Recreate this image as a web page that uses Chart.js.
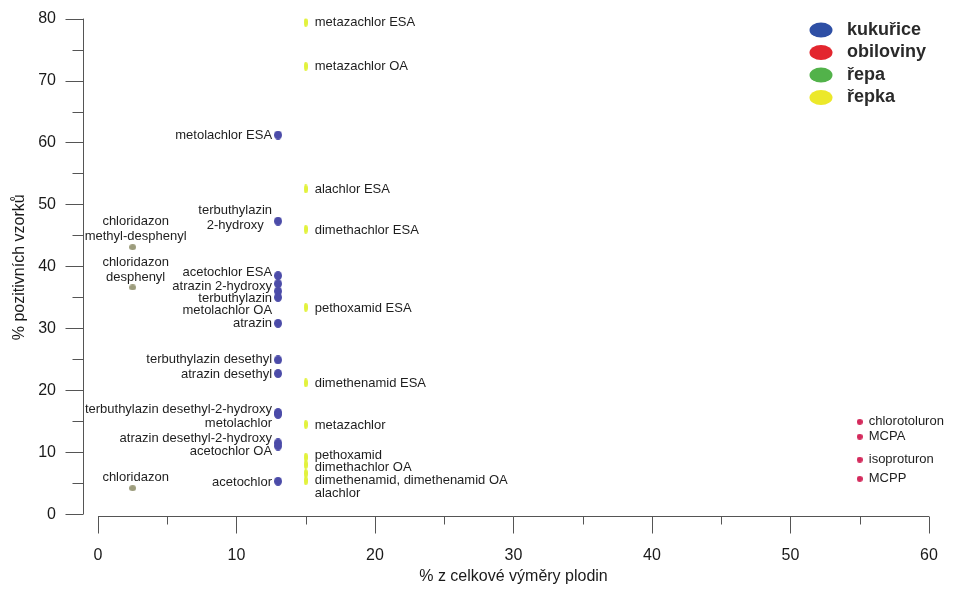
<!DOCTYPE html>
<html>
<head>
<meta charset="utf-8">
<script src="https://cdn.jsdelivr.net/npm/chart.js@4.4.1/dist/chart.umd.min.js"></script>
<style>
    html, body { margin: 0; padding: 0; background: #fff; }
    #wrap { width: 957px; height: 589px; }
</style>
</head>
<body>
<div id="wrap"><canvas id="scatterChart" width="957" height="589"></canvas></div>
<script>
// kukuřice (modrá)
const cornNames = ['metolachlor ESA', 'terbuthylazin\n2-hydroxy', 'acetochlor ESA', 'atrazin 2-hydroxy',
    'terbuthylazin', 'metolachlor OA', 'atrazin', 'terbuthylazin desethyl', 'atrazin desethyl',
    'terbuthylazin desethyl-2-hydroxy', 'metolachlor', 'atrazin desethyl-2-hydroxy', 'acetochlor OA', 'acetochlor'];
const cornX = [13, 13, 13, 13, 13, 13, 13, 13, 13, 13, 13, 13, 13, 13];
const cornY = [61.2, 47.3, 38.5, 37.2, 36.0, 35.0, 30.8, 24.9, 22.7, 16.4, 16.1, 11.5, 11.0, 5.3];
const cornLabelY = [61.2, 47.9, 39.0, 36.7, 34.8, 32.9, 30.8, 24.9, 22.5, 16.9, 14.7, 12.3, 10.1, 5.1];

// obiloviny (červená)
const cerealNames = ['chlorotoluron', 'MCPA', 'isoproturon', 'MCPP'];
const cerealX = [55, 55, 55, 55];
const cerealY = [14.9, 12.5, 8.8, 5.7];
const cerealLabelY = [14.9, 12.5, 8.8, 5.7];

// řepa (zelená)
const beetNames = ['chloridazon\nmethyl-desphenyl', 'chloridazon\ndesphenyl', 'chloridazon'];
const beetX = [2.5, 2.5, 2.5];
const beetY = [43.1, 36.6, 4.2];
const beetLabelY = [46.0, 39.5, 5.9];

// řepka (žlutá)
const rapeNames = ['metazachlor ESA', 'metazachlor OA', 'alachlor ESA', 'dimethachlor ESA', 'pethoxamid ESA',
    'dimethenamid ESA', 'metazachlor', 'pethoxamid', 'dimethachlor OA', 'dimethenamid, dimethenamid OA', 'alachlor'];
const rapeX = [15, 15, 15, 15, 15, 15, 15, 15, 15, 15, 15];
const rapeY = [79.4, 72.3, 52.5, 46.0, 33.4, 21.2, 14.5, 9.2, 8.0, 6.6, 5.4];
const rapeLabelY = [79.4, 72.2, 52.5, 45.8, 33.2, 21.1, 14.4, 9.4, 7.5, 5.4, 3.4];

const legendNames = ['kukuřice', 'obiloviny', 'řepa', 'řepka'];
const xTicks = [0, 5, 10, 15, 20, 25, 30, 35, 40, 45, 50, 55, 60];
const yTicks = [0, 5, 10, 15, 20, 25, 30, 35, 40, 45, 50, 55, 60, 65, 70, 75, 80];
const xTitle = '% z celkové výměry plodin';

const FONT = '"Liberation Sans", Arial, sans-serif';

// malé elipsy jako značky bodů
function makeDot(w, h, color) {
    const c = document.createElement('canvas');
    c.width = w;
    c.height = h;
    const g = c.getContext('2d');
    g.fillStyle = color;
    g.beginPath();
    g.ellipse(w / 2, h / 2, w / 2, h / 2, 0, 0, Math.PI * 2);
    g.fill();
    return c;
}

function toPoints(xs, ys) {
    return xs.map((x, i) => ({ x: x, y: ys[i] }));
}

// osy ve stylu R (oddělené od sebe, hlavní a vedlejší značky)
const axisLines = {
    id: 'axisLines',
    beforeDatasetsDraw(chart) {
        const { ctx, scales: { x, y }, chartArea } = chart;
        ctx.save();
        ctx.strokeStyle = '#555';
        ctx.lineWidth = 1;
        ctx.beginPath();
        const ax = Math.round(chartArea.left) + 0.5;
        ctx.moveTo(ax, y.getPixelForValue(80));
        ctx.lineTo(ax, y.getPixelForValue(0));
        yTicks.forEach(v => {
            const py = Math.round(y.getPixelForValue(v)) + 0.5;
            ctx.moveTo(ax, py);
            ctx.lineTo(ax - (v % 10 === 0 ? 18 : 11), py);
        });
        const ay = Math.round(chartArea.bottom) + 0.5;
        ctx.moveTo(x.getPixelForValue(0), ay);
        ctx.lineTo(x.getPixelForValue(60), ay);
        xTicks.forEach(v => {
            const px = Math.round(x.getPixelForValue(v)) + 0.5;
            ctx.moveTo(px, ay);
            ctx.lineTo(px, ay + (v % 10 === 0 ? 17 : 8));
        });
        ctx.stroke();

        // název osy x, vystředěný na rozsah 0–60
        ctx.font = '16px ' + FONT;
        ctx.fillStyle = '#1a1a1a';
        ctx.textAlign = 'center';
        ctx.textBaseline = 'middle';
        ctx.fillText(xTitle, x.getPixelForValue(30), 577);
        ctx.restore();
    }
};

// popisky látek u bodů
const pointLabels = {
    id: 'pointLabels',
    afterDatasetsDraw(chart) {
        const { ctx, scales: { y } } = chart;
        ctx.save();
        ctx.font = '13px ' + FONT;
        ctx.fillStyle = '#1e1e1e';
        ctx.textBaseline = 'middle';
        ctx.textAlign = 'left';
        chart.data.datasets.forEach((ds, di) => {
            const meta = chart.getDatasetMeta(di);
            meta.data.forEach((pt, i) => {
                const lines = ds.names[i].split('\n');
                const cy = y.getPixelForValue(ds.labelY[i]);
                const widths = lines.map(l => ctx.measureText(l).width);
                const maxW = Math.max(...widths);
                lines.forEach((line, k) => {
                    const ly = cy + (k - (lines.length - 1) / 2) * 15;
                    let lx;
                    if (ds.side === 'left') {
                        lx = pt.x - 6 - maxW / 2 - widths[k] / 2;
                    } else if (ds.side === 'above') {
                        lx = pt.x + 3 - widths[k] / 2;
                    } else {
                        lx = pt.x + 9;
                    }
                    ctx.fillText(line, lx, ly);
                });
            });
        });
        ctx.restore();
    }
};

// legenda vpravo nahoře
const legendColors = ['#2e4fa5', '#e3262e', '#52b24a', '#ece82a'];
const cropLegend = {
    id: 'cropLegend',
    afterDraw(chart) {
        const ctx = chart.ctx;
        ctx.save();
        ctx.font = 'bold 18px ' + FONT;
        ctx.textBaseline = 'middle';
        ctx.textAlign = 'left';
        legendNames.forEach((name, i) => {
            const cy = 30 + i * 22.5;
            ctx.fillStyle = legendColors[i];
            ctx.beginPath();
            ctx.ellipse(821, cy, 11.5, 7.5, 0, 0, Math.PI * 2);
            ctx.fill();
            ctx.fillStyle = '#2a2a2a';
            ctx.fillText(name, 847, cy);
        });
        ctx.restore();
    }
};

const ctx = document.getElementById('scatterChart').getContext('2d');
new Chart(ctx, {
    type: 'scatter',
    data: {
        datasets: [
            {
                label: 'kukuřice',
                data: toPoints(cornX, cornY),
                names: cornNames, labelY: cornLabelY, side: 'left',
                pointStyle: makeDot(8, 9, '#4b4ba8'),
                pointRadius: 5
            },
            {
                label: 'obiloviny',
                data: toPoints(cerealX, cerealY),
                names: cerealNames, labelY: cerealLabelY, side: 'right',
                pointStyle: makeDot(6, 6, '#d42a5c'),
                pointRadius: 4
            },
            {
                label: 'řepa',
                data: toPoints(beetX, beetY),
                names: beetNames, labelY: beetLabelY, side: 'above',
                pointStyle: makeDot(7, 6, '#9c9c7c'),
                pointRadius: 4
            },
            {
                label: 'řepka',
                data: toPoints(rapeX, rapeY),
                names: rapeNames, labelY: rapeLabelY, side: 'right',
                pointStyle: makeDot(4, 9, '#e2f23c'),
                pointRadius: 5
            }
        ]
    },
    options: {
        responsive: false,
        animation: false,
        devicePixelRatio: 1,
        layout: { padding: { top: 13, right: 28, left: 0, bottom: 0 } },
        plugins: {
            legend: { display: false },
            tooltip: { enabled: false }
        },
        scales: {
            x: {
                type: 'linear',
                min: -1.083,
                max: 60,
                afterBuildTicks: s => { s.ticks = xTicks.map(v => ({ value: v })); },
                afterFit: s => { s.height = 73; },
                grid: { display: false, drawTicks: true, tickLength: 17 },
                border: { display: false },
                ticks: {
                    callback: v => (v % 10 === 0 ? v : ''),
                    font: { family: FONT, size: 16 },
                    color: '#1a1a1a',
                    padding: 13,
                    maxRotation: 0,
                    autoSkip: false
                },
                title: { display: false }
            },
            y: {
                type: 'linear',
                min: -0.3,
                max: 80,
                afterBuildTicks: s => { s.ticks = yTicks.map(v => ({ value: v })); },
                afterFit: s => { s.width = 83; },
                grid: { display: false, drawTicks: true, tickLength: 18 },
                border: { display: false },
                ticks: {
                    callback: v => (v % 10 === 0 ? v : ''),
                    font: { family: FONT, size: 16 },
                    color: '#1a1a1a',
                    padding: 9,
                    autoSkip: false
                },
                title: {
                    display: true,
                    text: '% pozitivních vzorků',
                    font: { family: FONT, size: 16 },
                    color: '#1a1a1a',
                    padding: { top: 10, bottom: 0 }
                }
            }
        }
    },
    plugins: [axisLines, pointLabels, cropLegend]
});
</script>
</body>
</html>
